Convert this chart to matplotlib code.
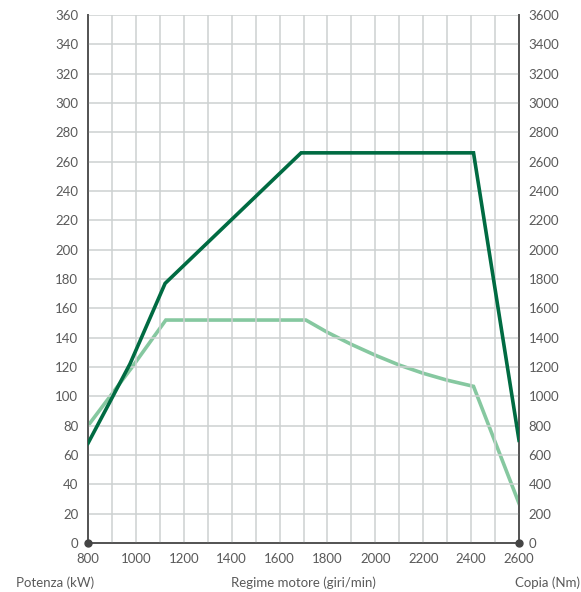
import matplotlib.pyplot as plt

# engine speed (giri/min) breakpoints
rpm_power = [800, 975, 1122, 1690, 2410, 2600]
power_kw = [68, 122, 177, 266, 266, 70]

rpm_torque = [800, 980, 1125, 1710, 1800, 1900, 2000, 2100, 2200, 2300, 2410, 2600]
torque_nm = [800, 1190, 1520, 1520, 1436, 1354, 1280, 1213, 1157, 1110, 1068, 270]

x_ticks = list(range(800, 2601, 200))
left_ticks = list(range(0, 361, 20))
right_ticks = list(range(0, 3601, 200))

plt.rcParams['font.family'] = ['Lato', 'DejaVu Sans']
text_col = '#5a5a5a'
axis_col = '#555555'
grid_col = '#cdd1d1'

fig = plt.figure(figsize=(5.81, 5.92), dpi=100)
ax = fig.add_axes([0.1515, 0.0828, 0.7418, 0.8919])
ax2 = ax.twinx()

ax.set_xlim(800, 2600)
ax.set_ylim(0, 360)
ax2.set_ylim(0, 3600)

# grid every 100 rpm / 20 kW
for xv in range(900, 2600, 100):
    ax.axvline(xv, color=grid_col, lw=1.1, zorder=0)
for yv in range(20, 361, 20):
    ax.axhline(yv, color=grid_col, lw=1.1, zorder=0)

ax2.plot(rpm_torque, torque_nm, color='#86c8a0', lw=2.6, solid_joinstyle='miter', zorder=3)
ax.plot(rpm_power, power_kw, color='#006b42', lw=2.6, solid_joinstyle='miter', zorder=4)
ax.set_zorder(ax2.get_zorder() + 1)
ax.patch.set_visible(False)

ax.set_xticks(x_ticks)
ax.set_yticks(left_ticks)
ax2.set_yticks(right_ticks)
ax.tick_params(length=0, labelsize=9.5, labelcolor=text_col, pad=7)
ax2.tick_params(length=0, labelsize=9.5, labelcolor=text_col, pad=7)

for a in (ax, ax2):
    a.spines['top'].set_visible(False)
    for s in ('left', 'right', 'bottom'):
        a.spines[s].set_color(axis_col)
        a.spines[s].set_linewidth(1.3)

ax.plot([800, 2600], [0, 0], 'o', color='#444444', ms=5, clip_on=False, zorder=6)

fig.text(16 / 581, 1 - 583 / 592, 'Potenza (kW)', fontsize=9.5, color=text_col, va='center', ha='left')
fig.text(303 / 581, 1 - 583 / 592, 'Regime motore (giri/min)', fontsize=9.5, color=text_col, va='center', ha='center')
fig.text(580 / 581, 1 - 583 / 592, 'Copia (Nm)', fontsize=9.5, color=text_col, va='center', ha='right')

fig.savefig('out.png', dpi=100)
